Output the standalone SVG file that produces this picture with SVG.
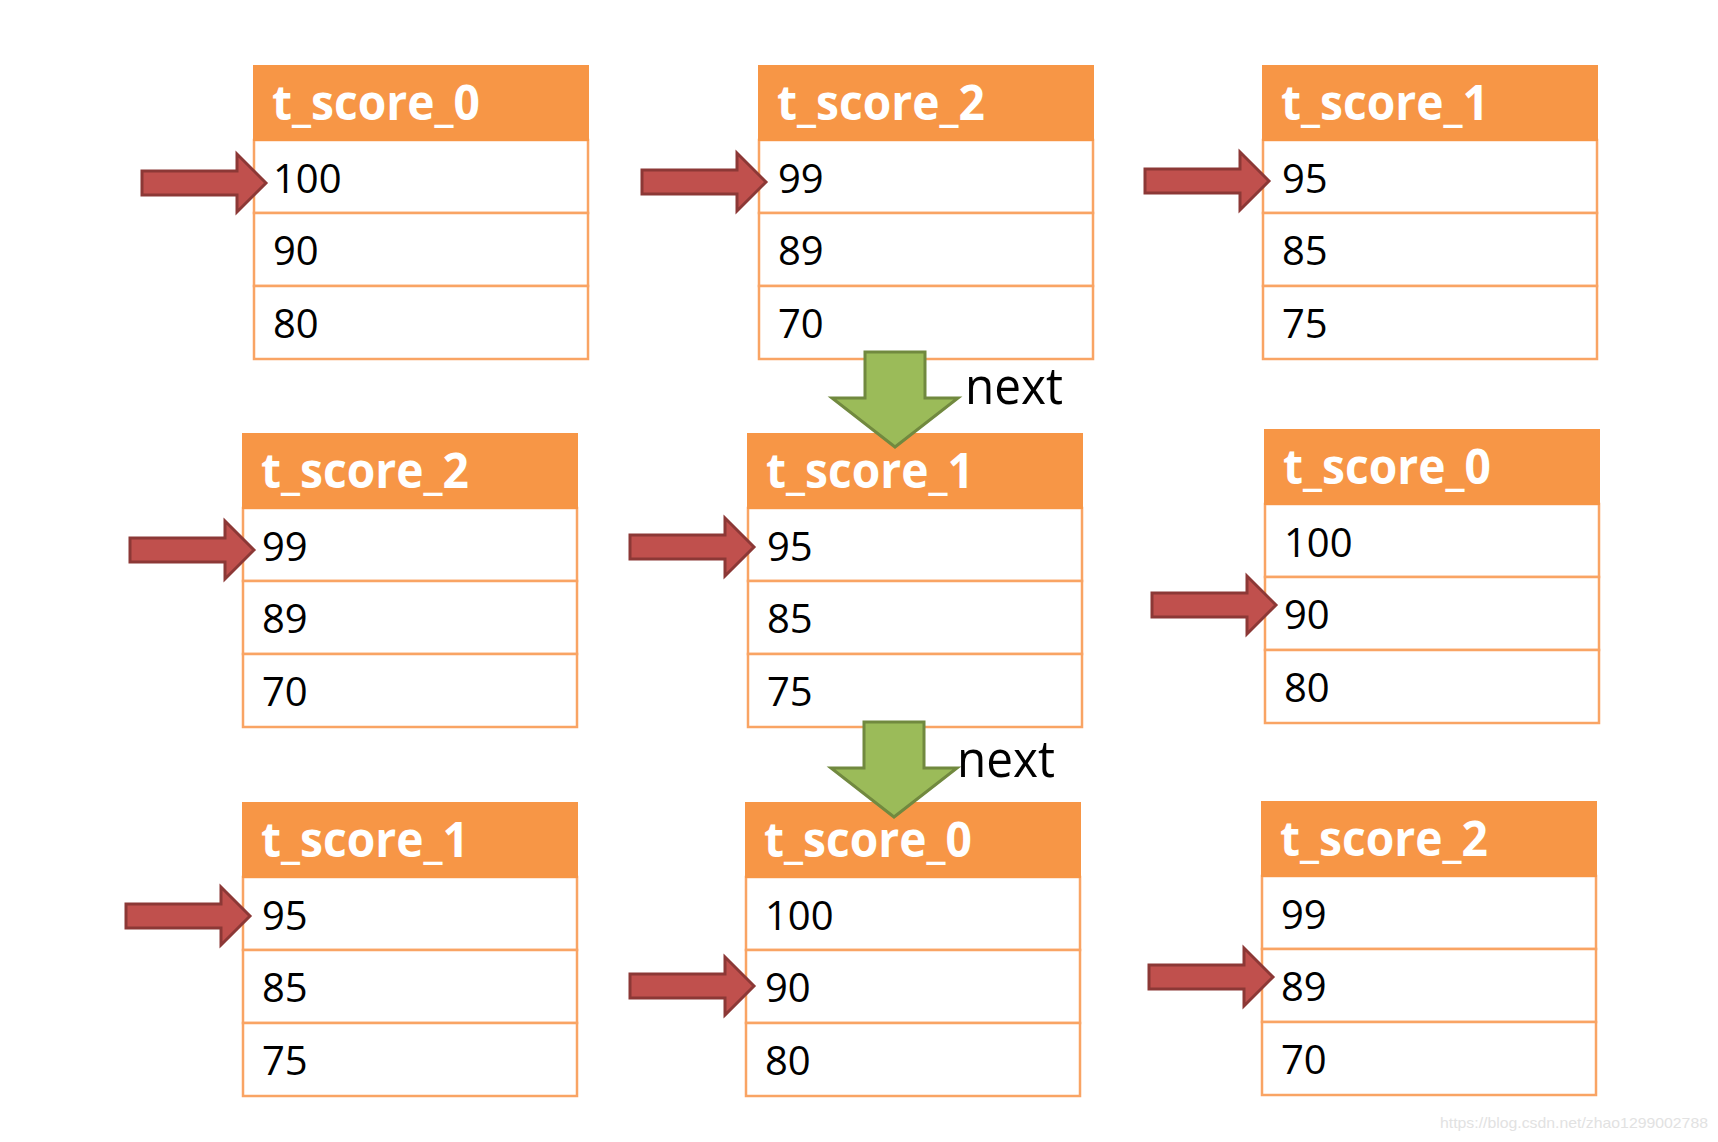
<svg xmlns="http://www.w3.org/2000/svg" xmlns:xlink="http://www.w3.org/1999/xlink" width="1718" height="1142" viewBox="0 0 1718 1142">
<style>
.hdr{fill:#F79646;stroke:#F79646;stroke-width:2}
.row{fill:#FFFFFF;stroke:#F9A464;stroke-width:2.5}
.ht{font-family:"Open Sans","Noto Sans",sans-serif;font-weight:bold;font-size:48px;fill:#FFFFFF}
.nt{font-family:"Open Sans","Noto Sans",sans-serif;font-size:40px;fill:#000000}
.lbl{font-family:"Open Sans","Noto Sans",sans-serif;font-size:52px;fill:#000000}
.red{fill:#C0504D;stroke:#8C3836;stroke-width:3;stroke-linejoin:miter}
.grn{fill:#9BBB59;stroke:#71893F;stroke-width:3;stroke-linejoin:miter}
.wm{font-family:"Liberation Sans",Arial,sans-serif;font-size:14.5px;fill:#E2E2E2}
</style>
<defs>
<path id="redArrow" class="red" d="M0,0 L-29,-29 L-29,-12 L-124,-12 L-124,12 L-29,12 L-29,29 Z"/>
<path id="greenArrow" class="grn" d="M0,0 L-63,-49 L-30,-49 L-30,-95 L30,-95 L30,-49 L63,-49 Z"/>
</defs>
<rect width="1718" height="1142" fill="#FFFFFF"/>

<g id="table-r1c1" transform="translate(254,66)">
<rect class="row" x="0" y="74" width="334" height="73"/><rect class="row" x="0" y="147" width="334" height="73"/><rect class="row" x="0" y="220" width="334" height="73"/>
<rect class="hdr" x="0" y="0" width="334" height="74"/>
<text class="ht" x="18" y="54" textLength="208" lengthAdjust="spacingAndGlyphs">t_score_0</text>
<text class="nt" x="19" y="127">100</text><text class="nt" x="19" y="199">90</text><text class="nt" x="19" y="272">80</text>
</g>
<g id="table-r1c2" transform="translate(759,66)">
<rect class="row" x="0" y="74" width="334" height="73"/><rect class="row" x="0" y="147" width="334" height="73"/><rect class="row" x="0" y="220" width="334" height="73"/>
<rect class="hdr" x="0" y="0" width="334" height="74"/>
<text class="ht" x="18" y="54" textLength="208" lengthAdjust="spacingAndGlyphs">t_score_2</text>
<text class="nt" x="19" y="127">99</text><text class="nt" x="19" y="199">89</text><text class="nt" x="19" y="272">70</text>
</g>
<g id="table-r1c3" transform="translate(1263,66)">
<rect class="row" x="0" y="74" width="334" height="73"/><rect class="row" x="0" y="147" width="334" height="73"/><rect class="row" x="0" y="220" width="334" height="73"/>
<rect class="hdr" x="0" y="0" width="334" height="74"/>
<text class="ht" x="18" y="54" textLength="208" lengthAdjust="spacingAndGlyphs">t_score_1</text>
<text class="nt" x="19" y="127">95</text><text class="nt" x="19" y="199">85</text><text class="nt" x="19" y="272">75</text>
</g>

<g id="table-r2c1" transform="translate(243,434)">
<rect class="row" x="0" y="74" width="334" height="73"/><rect class="row" x="0" y="147" width="334" height="73"/><rect class="row" x="0" y="220" width="334" height="73"/>
<rect class="hdr" x="0" y="0" width="334" height="74"/>
<text class="ht" x="18" y="54" textLength="208" lengthAdjust="spacingAndGlyphs">t_score_2</text>
<text class="nt" x="19" y="127">99</text><text class="nt" x="19" y="199">89</text><text class="nt" x="19" y="272">70</text>
</g>
<g id="table-r2c2" transform="translate(748,434)">
<rect class="row" x="0" y="74" width="334" height="73"/><rect class="row" x="0" y="147" width="334" height="73"/><rect class="row" x="0" y="220" width="334" height="73"/>
<rect class="hdr" x="0" y="0" width="334" height="74"/>
<text class="ht" x="18" y="54" textLength="208" lengthAdjust="spacingAndGlyphs">t_score_1</text>
<text class="nt" x="19" y="127">95</text><text class="nt" x="19" y="199">85</text><text class="nt" x="19" y="272">75</text>
</g>
<g id="table-r2c3" transform="translate(1265,430)">
<rect class="row" x="0" y="74" width="334" height="73"/><rect class="row" x="0" y="147" width="334" height="73"/><rect class="row" x="0" y="220" width="334" height="73"/>
<rect class="hdr" x="0" y="0" width="334" height="74"/>
<text class="ht" x="18" y="54" textLength="208" lengthAdjust="spacingAndGlyphs">t_score_0</text>
<text class="nt" x="19" y="127">100</text><text class="nt" x="19" y="199">90</text><text class="nt" x="19" y="272">80</text>
</g>

<g id="table-r3c1" transform="translate(243,803)">
<rect class="row" x="0" y="74" width="334" height="73"/><rect class="row" x="0" y="147" width="334" height="73"/><rect class="row" x="0" y="220" width="334" height="73"/>
<rect class="hdr" x="0" y="0" width="334" height="74"/>
<text class="ht" x="18" y="54" textLength="208" lengthAdjust="spacingAndGlyphs">t_score_1</text>
<text class="nt" x="19" y="127">95</text><text class="nt" x="19" y="199">85</text><text class="nt" x="19" y="272">75</text>
</g>
<g id="table-r3c2" transform="translate(746,803)">
<rect class="row" x="0" y="74" width="334" height="73"/><rect class="row" x="0" y="147" width="334" height="73"/><rect class="row" x="0" y="220" width="334" height="73"/>
<rect class="hdr" x="0" y="0" width="334" height="74"/>
<text class="ht" x="18" y="54" textLength="208" lengthAdjust="spacingAndGlyphs">t_score_0</text>
<text class="nt" x="19" y="127">100</text><text class="nt" x="19" y="199">90</text><text class="nt" x="19" y="272">80</text>
</g>
<g id="table-r3c3" transform="translate(1262,802)">
<rect class="row" x="0" y="74" width="334" height="73"/><rect class="row" x="0" y="147" width="334" height="73"/><rect class="row" x="0" y="220" width="334" height="73"/>
<rect class="hdr" x="0" y="0" width="334" height="74"/>
<text class="ht" x="18" y="54" textLength="208" lengthAdjust="spacingAndGlyphs">t_score_2</text>
<text class="nt" x="19" y="127">99</text><text class="nt" x="19" y="199">89</text><text class="nt" x="19" y="272">70</text>
</g>

<g id="connectors">
<use xlink:href="#redArrow" href="#redArrow" transform="translate(266,183)"/>
<use xlink:href="#redArrow" href="#redArrow" transform="translate(766,182)"/>
<use xlink:href="#redArrow" href="#redArrow" transform="translate(1269,181)"/>
<use xlink:href="#redArrow" href="#redArrow" transform="translate(254,550)"/>
<use xlink:href="#redArrow" href="#redArrow" transform="translate(754,547)"/>
<use xlink:href="#redArrow" href="#redArrow" transform="translate(1276,605)"/>
<use xlink:href="#redArrow" href="#redArrow" transform="translate(250,916)"/>
<use xlink:href="#redArrow" href="#redArrow" transform="translate(754,986)"/>
<use xlink:href="#redArrow" href="#redArrow" transform="translate(1273,977)"/>
<use xlink:href="#greenArrow" href="#greenArrow" transform="translate(895,447)"/>
<use xlink:href="#greenArrow" href="#greenArrow" transform="translate(894,817)"/>
<text class="lbl" x="965" y="404" textLength="98" lengthAdjust="spacingAndGlyphs">next</text>
<text class="lbl" x="957" y="777" textLength="98" lengthAdjust="spacingAndGlyphs">next</text>
</g>

<text class="wm" x="1440" y="1128" textLength="268" lengthAdjust="spacingAndGlyphs">https://blog.csdn.net/zhao1299002788</text>
</svg>
